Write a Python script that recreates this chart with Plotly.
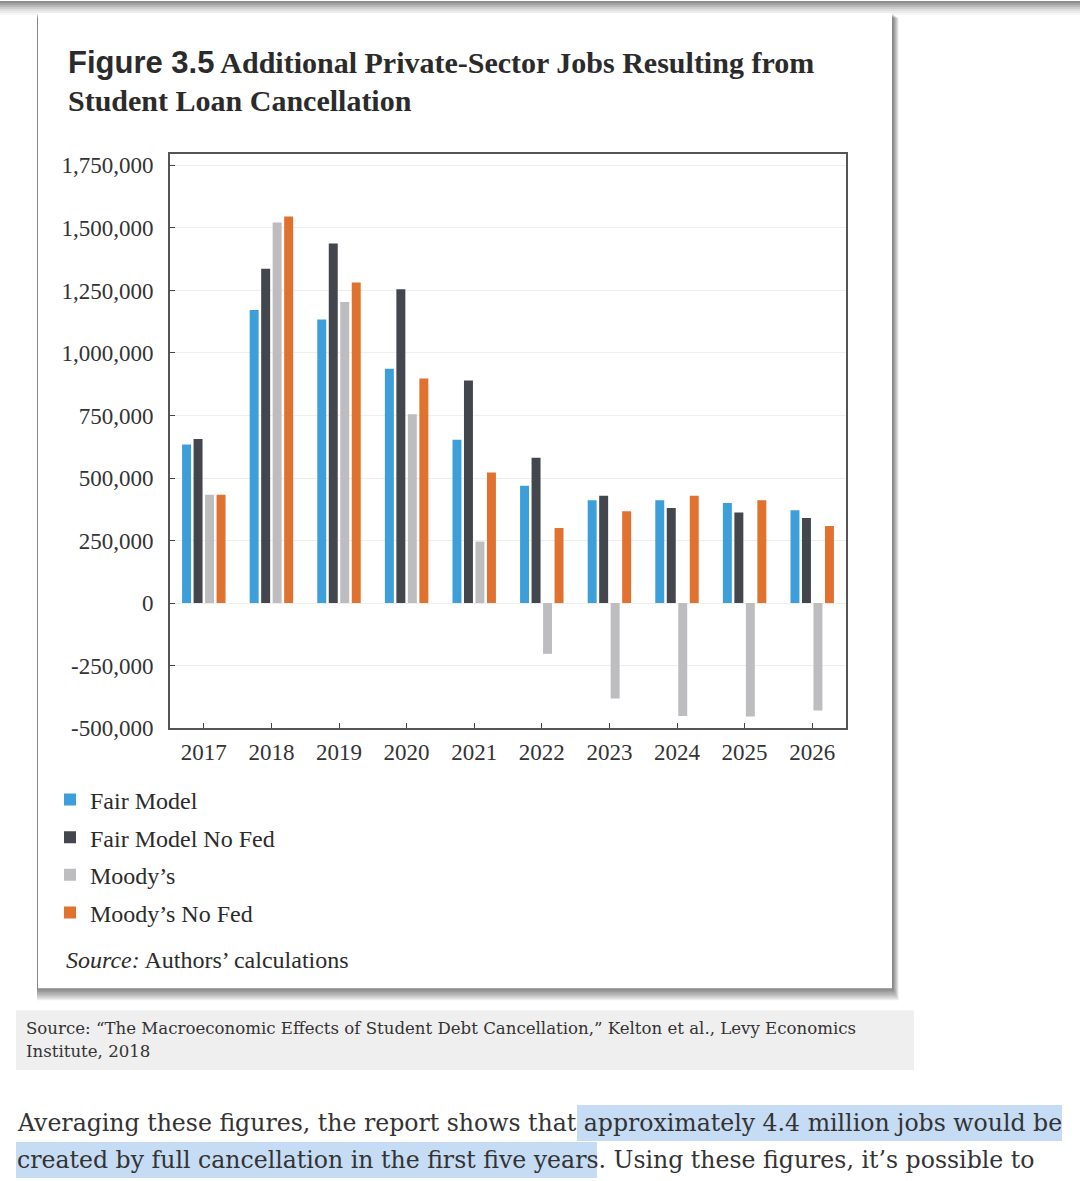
import plotly.graph_objects as go

# data
years = ["2017", "2018", "2019", "2020", "2021", "2022", "2023", "2024", "2025", "2026"]
fair_model = [634000, 1172000, 1134000, 937000, 653000, 469000, 411000, 411000, 400000, 371000]
fair_model_no_fed = [656000, 1337000, 1438000, 1255000, 890000, 581000, 429000, 380000, 362000, 340000]
moodys = [433000, 1522000, 1204000, 755000, 246000, -203000, -382000, -452000, -454000, -430000]
moodys_no_fed = [433000, 1546000, 1282000, 898000, 522000, 300000, 367000, 429000, 411000, 308000]

y_tickvals = [-500000, -250000, 0, 250000, 500000, 750000, 1000000, 1250000, 1500000, 1750000]
y_ticktext = ["-500,000", "-250,000", "0", "250,000", "500,000", "750,000",
              "1,000,000", "1,250,000", "1,500,000", "1,750,000"]

# the photographed page comes out squeezed ~1.1% vertically, so the figure
# is drawn a little taller; positions below are in reference pixels
W, H = 1080, 1194
REF_H = 1181
SERIF = "Liberation Serif, Times New Roman, serif"
TEXT_SERIF = "DejaVu Serif, Georgia, serif"


def px(x):
    return x / W


def py(y):
    return 1 - y / REF_H


def rect(x0, y0, x1, y1, color):
    return dict(type="rect", xref="paper", yref="paper", layer="below",
                x0=px(x0), x1=px(x1), y0=py(y1), y1=py(y0),
                fillcolor=color, line=dict(width=0))


def label(x, y, text, size, color="#2b2b2b", family=SERIF):
    return dict(x=px(x), y=py(y), xref="paper", yref="paper",
                xanchor="left", yanchor="middle", showarrow=False,
                text=text, font=dict(family=family, size=size, color=color))


series = [
    ("Fair Model", fair_model, "#3d9fd9"),
    ("Fair Model No Fed", fair_model_no_fed, "#44464e"),
    ("Moody’s", moodys, "#bdbdbf"),
    ("Moody’s No Fed", moodys_no_fed, "#e0712f"),
]

fig = go.Figure()
for name, vals, color in series:
    fig.add_trace(go.Bar(x=years, y=vals, name=name, legendgroup=name,
                         marker=dict(color=color, line=dict(width=0))))

shapes = []
# grey shade across the very top of the page
for i, c in enumerate(["#8f8f8f", "#a3a3a3", "#b8b8b8", "#cccccc", "#dedede", "#ececec", "#f6f6f6"]):
    shapes.append(rect(0, i * 2, W, i * 2 + 2, c))
# card drop shadow
for i in range(9):
    shapes.append(rect(38 - 1, 13 + i * 0.5, 893 + i * 0.7, 989 + i * 1.4, "rgba(0,0,0,0.065)"))
# the white card
shapes.append(rect(38, 12, 892, 988, "white"))
# caption box
shapes.append(rect(16, 1010, 914, 1070, "#efefef"))
# highlighted body text
shapes.append(rect(577, 1105, 1062, 1141, "#c6dcf4"))
shapes.append(rect(16, 1142, 597, 1178, "#c6dcf4"))

annotations = [
    label(66, 62, "<b><span style='font-family:Liberation Sans;font-size:31px'>Figure 3.5</span> "
                  "Additional Private-Sector Jobs Resulting from</b>", 30),
    label(66, 100, "<b>Student Loan Cancellation</b>", 30),
    label(64, 960, "<i>Source:</i> Authors’ calculations", 24),
    label(24, 1028, "Source: “The Macroeconomic Effects of Student Debt Cancellation,” "
                    "Kelton et al., Levy Economics", 16.6, "#333333", TEXT_SERIF),
    label(24, 1051, "Institute, 2018", 16.6, "#333333", TEXT_SERIF),
    label(15, 1123, "Averaging these figures, the report shows that approximately "
                    "4.4 million jobs would be", 23.6, "#333333", TEXT_SERIF),
    label(15, 1160, "created by full cancellation in the first five years. "
                    "Using these figures, it’s possible to", 23.6, "#333333", TEXT_SERIF),
]

fig.update_layout(
    width=W, height=H,
    margin=dict(l=0, r=0, t=0, b=0),
    paper_bgcolor="white",
    plot_bgcolor="white",
    barmode="group",
    bargap=0.32,
    bargroupgap=0.22,
    font=dict(family=SERIF, size=23, color="#333333"),
    shapes=shapes,
    annotations=annotations,
    showlegend=True,
    legend=dict(x=px(50), y=py(777), xanchor="left", yanchor="top",
                traceorder="grouped", tracegroupgap=3.5,
                bgcolor="rgba(0,0,0,0)",
                font=dict(family=SERIF, size=24, color="#2b2b2b")),
    xaxis=dict(domain=[px(170), px(846)], type="category",
               showgrid=False, ticks="inside", ticklen=5, tickcolor="#444444",
               showline=True, linecolor="#555555", linewidth=2, mirror=True,
               ticklabelstandoff=2,
               tickfont=dict(family=SERIF, size=23, color="#333333")),
    yaxis=dict(domain=[py(727.7), py(153.3)], range=[-500000, 1795000],
               tickvals=y_tickvals, ticktext=y_ticktext,
               showgrid=True, gridcolor="#eeeeee", gridwidth=1, zeroline=False,
               ticks="inside", ticklen=5, tickcolor="#444444",
               showline=True, linecolor="#555555", linewidth=2, mirror=True,
               ticklabelstandoff=10,
               tickfont=dict(family=SERIF, size=23, color="#333333")),
)

# drop the default 8px page margin so the figure starts at the window corner
fig.write_html("out.html", config={"displayModeBar": False},
               post_script="document.body.style.margin = '0';")
